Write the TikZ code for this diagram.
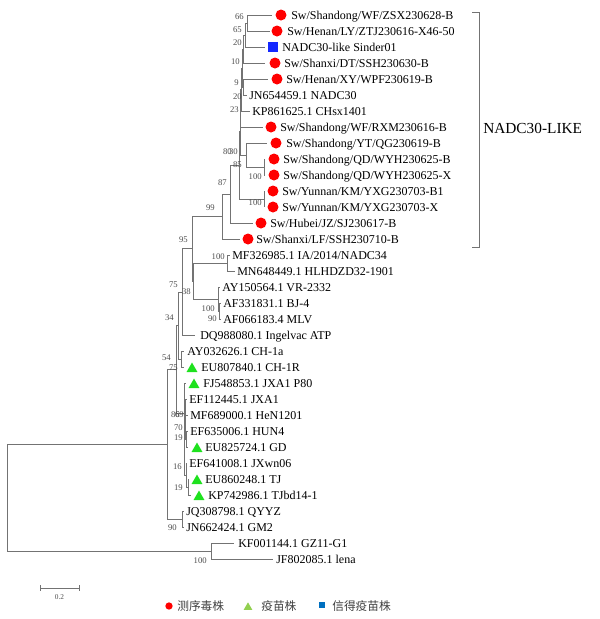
\documentclass[tikz,border=0pt]{standalone}
\usepackage{fontspec}
\setmainfont{Liberation Serif}
\newfontfamily\cjk{Noto Sans CJK SC}
\usetikzlibrary{shapes.geometric}

\definecolor{swred}{RGB}{255,0,0}
\definecolor{vacgreen}{RGB}{30,225,30}
\definecolor{sinblue}{RGB}{20,40,255}
\definecolor{keygreen}{RGB}{146,208,80}
\definecolor{keyblue}{RGB}{0,112,192}

\begin{document}
\begin{tikzpicture}[x=0.75pt, y=-0.75pt,
		branch/.style={draw=black!55, line width=0.6pt},
		leaf/.style={anchor=west, inner sep=0pt, text height=1.5ex, text depth=0pt, font=\fontsize{9}{10}\selectfont},
		boot/.style={anchor=east, inner sep=0pt, text=black!70, font=\fontsize{6.5}{7}\selectfont},
		sw/.style={circle, fill=swred, minimum size=8.25pt, inner sep=0pt},
		vac/.style={regular polygon, regular polygon sides=3, fill=vacgreen, minimum size=9.5pt, inner sep=0pt, yshift=-1.4pt},
		sin/.style={rectangle, fill=sinblue, minimum size=7.5pt, inner sep=0pt},
		nomark/.style={inner sep=0pt, minimum size=0pt},
		key/.style={anchor=west, inner sep=0pt, text=black!75, font=\cjk\fontsize{8.8}{10}\selectfont},
	]
	\useasboundingbox (0,0) rectangle (600,619);

	% leaves
	\foreach \i/\tx/\mk/\mx/\lx/\txt [evaluate=\i as \ly using 15+16*(\i-1)] in {
		1/272/sw/281/291/{Sw/Shandong/WF/ZSX230628-B},
		2/270/sw/277/287/{Sw/Henan/LY/ZTJ230616-X46-50},
		3/265/sin/273/282/{NADC30-like Sinder01},
		4/265/sw/275/284/{Sw/Shanxi/DT/SSH230630-B},
		5/268/sw/277/286/{Sw/Henan/XY/WPF230619-B},
		6/247/nomark/247/249/{JN654459.1 NADC30},
		7/250/nomark/250/252/{KP861625.1 CHsx1401},
		8/263/sw/271/280/{Sw/Shandong/WF/RXM230616-B},
		9/267/sw/276/286/{Sw/Shandong/YT/QG230619-B},
		10/265/sw/274/283/{Sw/Shandong/QD/WYH230625-B},
		11/265/sw/274/283/{Sw/Shandong/QD/WYH230625-X},
		12/264/sw/273/282/{Sw/Yunnan/KM/YXG230703-B1},
		13/264/sw/273/282/{Sw/Yunnan/KM/YXG230703-X},
		14/253/sw/261/270/{Sw/Hubei/JZ/SJ230617-B},
		15/240/sw/248/256/{Sw/Shanxi/LF/SSH230710-B},
		16/230/nomark/230/232/{MF326985.1 IA/2014/NADC34},
		17/235/nomark/235/237/{MN648449.1 HLHDZD32-1901},
		18/220/nomark/220/222/{AY150564.1 VR-2332},
		19/221/nomark/221/223/{AF331831.1 BJ-4},
		20/221/nomark/221/223/{AF066183.4 MLV},
		21/195/nomark/195/200/{DQ988080.1 Ingelvac ATP},
		22/184/nomark/184/187/{AY032626.1 CH-1a},
		23/184/vac/192/201/{EU807840.1 CH-1R},
		24/186/vac/194/203/{FJ548853.1 JXA1 P80},
		25/187/nomark/187/189/{EF112445.1 JXA1},
		26/188/nomark/188/190/{MF689000.1 HeN1201},
		27/188/nomark/188/190/{EF635006.1 HUN4},
		28/188/vac/197/205/{EU825724.1 GD},
		29/187/nomark/187/189/{EF641008.1 JXwn06},
		30/188/vac/197/205/{EU860248.1 TJ},
		31/191/vac/199/208/{KP742986.1 TJbd14-1},
		32/184/nomark/184/186/{JQ308798.1 QYYZ},
		33/184/nomark/184/186/{JN662424.1 GM2},
		34/234/nomark/234/238/{KF001144.1 GZ11-G1},
		35/273/nomark/273/276/{JF802085.1 lena}} {
		\coordinate (t\i) at (\tx,\ly);
		\node[\mk] (m\i) at (\mx,\ly) {};
		\node[leaf] (l\i) at (\lx,\ly) {\txt};
	}

	% inner nodes
	\coordinate (a1) at (247,23);
	\coordinate (a2) at (245,35);
	\coordinate (a3) at (243,49);
	\coordinate (b) at (243,87);
	\coordinate (a4) at (242,68);
	\coordinate (a5) at (241,89.5);
	\coordinate (e) at (240.5,108.25);
	\coordinate (c1) at (264,167);
	\coordinate (c2) at (264,199);
	\coordinate (c3) at (246,155);
	\coordinate (c5) at (240,131.6);
	\coordinate (c4) at (239.5,165.3);
	\coordinate (f) at (230,194.2);
	\coordinate (n99) at (222,216.6);
	\coordinate (p100) at (227,263);
	\coordinate (nBM) at (219,311);
	\coordinate (nV) at (218,299);
	\coordinate (n38) at (193,281);
	\coordinate (n95) at (192,248.8);
	\coordinate (n75) at (182,291.9);
	\coordinate (nC) at (181,359);
	\coordinate (n34) at (178,325.5);
	\coordinate (j1) at (188,487);
	\coordinate (j2) at (186,475);
	\coordinate (j3) at (186,439);
	\coordinate (j4) at (185.5,427);
	\coordinate (j5) at (185,413);
	\coordinate (j6) at (184.5,444);
	\coordinate (j7) at (184,413.5);
	\coordinate (n54) at (176,369.5);
	\coordinate (n90) at (182,519);
	\coordinate (nIn) at (167,444.25);
	\coordinate (nOut) at (211,551);
	\coordinate (root) at (7,497.6);

	\foreach \p/\c in {root/nIn, root/nOut, nOut/t34, nOut/t35, nIn/n54, nIn/n90,
		n90/t32, n90/t33, n54/n34, n54/j7, n34/n75, n34/nC, nC/t22, nC/t23,
		n75/n95, n75/t21, n95/n99, n95/n38, n38/p100, n38/nV, p100/t16, p100/t17,
		nV/t18, nV/nBM, nBM/t19, nBM/t20, n99/f, n99/t15, f/c4, f/t14,
		c4/c5, c4/c2, c5/e, c5/c3, c3/t9, c3/c1, c1/t10, c1/t11, c2/t12, c2/t13,
		e/a5, e/t8, a5/a4, a5/t7, a4/a3, a4/b, b/t5, b/t6, a3/a2, a3/t4,
		a2/a1, a2/t3, a1/t1, a1/t2, j7/t24, j7/j6, j6/j5, j6/j2, j5/t25, j5/j4,
		j4/t26, j4/j3, j3/t27, j3/t28, j2/t29, j2/j1, j1/t30, j1/t31}
		\draw[branch] (\p) |- (\c);

	% bootstrap values
	\foreach \vx/\vy/\vt [count=\k] in {244/17/66, 242/30/65, 242/43/20, 240/62/10,
		239/83/9, 242/97/20, 239/110/23, 232/152/80, 238/152/30, 242/165/85,
		262/177/100, 262/203/100, 227/183/87, 215/208/99, 188/240/95, 225/257/100,
		191/292/38, 178/285/75, 174/318/34, 215/309/100, 217/319/90, 171/358/54,
		178/368/75, 180/415/86, 184/415/69, 183/428/70, 183/438/19, 182/467/16,
		183/488/19, 177/528/90, 207/561/100}
		\node[boot] (bs\k) at (\vx,\vy) {\vt};

	% clade bracket
	\coordinate (br1) at (472,12);
	\coordinate (br2) at (479,12);
	\coordinate (br3) at (479,247);
	\coordinate (br4) at (472,247);
	\draw[branch] (br1) -- (br2) -- (br3) -- (br4);
	\node[anchor=west, inner sep=0pt, font=\fontsize{11.5}{13}\selectfont] (clade) at (483,128) {NADC30-LIKE};

	% scale bar
	\coordinate (s0) at (40,588);
	\coordinate (s1) at (79,588);
	\draw[branch] (s0) -- (s1);
	\draw[branch] ([yshift=2pt]s0) -- ([yshift=-2pt]s0);
	\draw[branch] ([yshift=2pt]s1) -- ([yshift=-2pt]s1);
	\node[inner sep=0pt, text=black!70, font=\fontsize{5.5}{6}\selectfont] (scale) at (59.5,597) {0.2};

	% legend
	\node[circle, fill=swred, minimum size=5.5pt, inner sep=0pt] (k1) at (169,606) {};
	\node[key] (k1t) at (177,606) {测序毒株};
	\node[regular polygon, regular polygon sides=3, fill=keygreen, minimum size=7.5pt, inner sep=0pt, yshift=-1pt] (k2) at (248,606) {};
	\node[key] (k2t) at (261,606) {疫苗株};
	\node[rectangle, fill=keyblue, minimum size=4.5pt, inner sep=0pt] (k3) at (322,605) {};
	\node[key] (k3t) at (332,606) {信得疫苗株};
\end{tikzpicture}
\end{document}
